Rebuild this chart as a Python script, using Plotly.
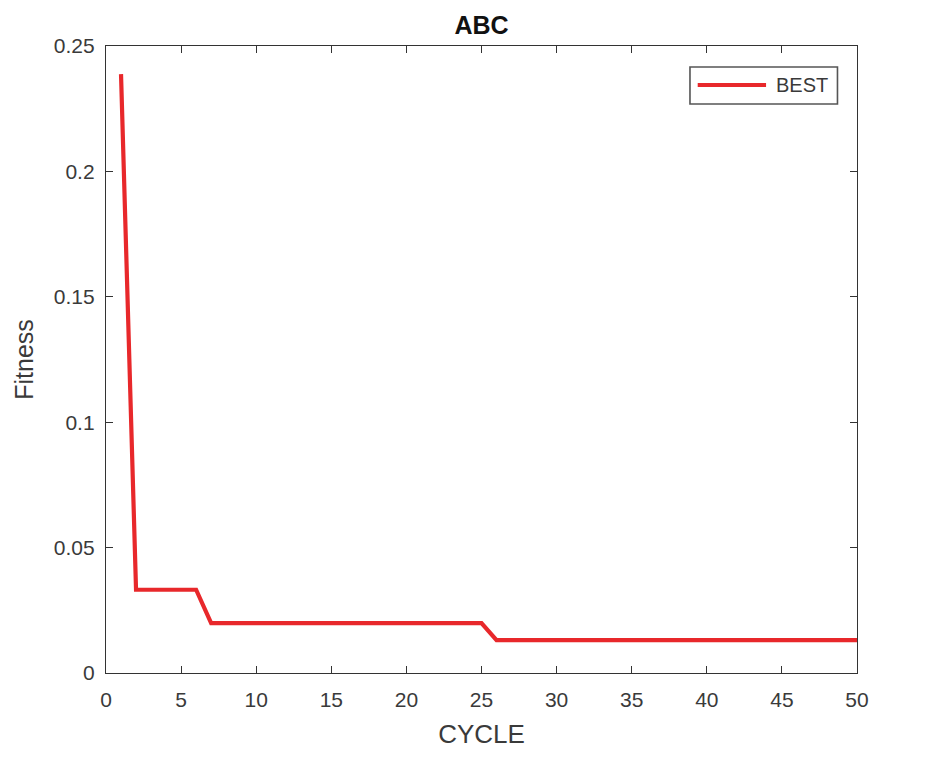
import plotly.graph_objects as go

# Best fitness per cycle of the ABC run
cycle = list(range(1, 51))
best = ([0.2388] + [0.0332] * 5 + [0.0199] * 19 + [0.0131] * 25)

series_name = "BEST"
line_color = "#e8282b"
axis_color = "#333333"
font_family = "Liberation Sans, Arial, Helvetica, sans-serif"

fig = go.Figure()
fig.add_trace(go.Scatter(
    x=cycle, y=best, mode="lines", name=series_name,
    line=dict(color=line_color, width=4.2), showlegend=False,
))

common_axis = dict(
    showline=True, linecolor=axis_color, linewidth=1.4, mirror="ticks",
    ticks="inside", ticklen=7, tickwidth=1.3, tickcolor=axis_color,
    showgrid=False, zeroline=False,
    tickfont=dict(size=21, color="#3a3a3a", family=font_family),
)

# boxed legend in the upper-right corner of the axes (paper coordinates)
legend_box = dict(x0=0.7776, x1=0.9740, y0=0.9075, y1=0.9665)
legend_y = 0.9378
shapes = [
    dict(type="rect", xref="paper", yref="paper", **legend_box,
         line=dict(color="#555555", width=1.6), fillcolor="white", layer="above"),
    dict(type="line", xref="paper", yref="paper", x0=0.7879, x1=0.8789,
         y0=legend_y, y1=legend_y, line=dict(color=line_color, width=4.2), layer="above"),
]
annotations = [
    dict(text=series_name, xref="paper", yref="paper", x=0.8895, y=legend_y,
         xanchor="left", yanchor="middle", showarrow=False,
         font=dict(size=20, color="#3a3a3a", family=font_family)),
]

fig.update_layout(
    width=928, height=767,
    margin=dict(l=106, r=71, t=46, b=94),
    paper_bgcolor="white", plot_bgcolor="white",
    font=dict(family=font_family, color=axis_color),
    title=dict(text="<b>ABC</b>", x=481.5 / 928, xanchor="center",
               y=1 - 25 / 767, yanchor="middle",
               font=dict(size=25, color="#111111", family=font_family)),
    xaxis=dict(range=[0, 50], tickmode="linear", tick0=0, dtick=5,
               ticklabelstandoff=8,
               title=dict(text="CYCLE", font=dict(size=26, color="#3a3a3a"), standoff=14),
               **common_axis),
    yaxis=dict(range=[0, 0.25], tickmode="array",
               tickvals=[0, 0.05, 0.1, 0.15, 0.2, 0.25],
               ticktext=["0", "0.05", "0.1", "0.15", "0.2", "0.25"],
               ticklabelstandoff=6,
               title=dict(text="Fitness", font=dict(size=25, color="#3a3a3a"), standoff=12),
               **common_axis),
    shapes=shapes,
    annotations=annotations,
)

fig.write_html("out.html")
